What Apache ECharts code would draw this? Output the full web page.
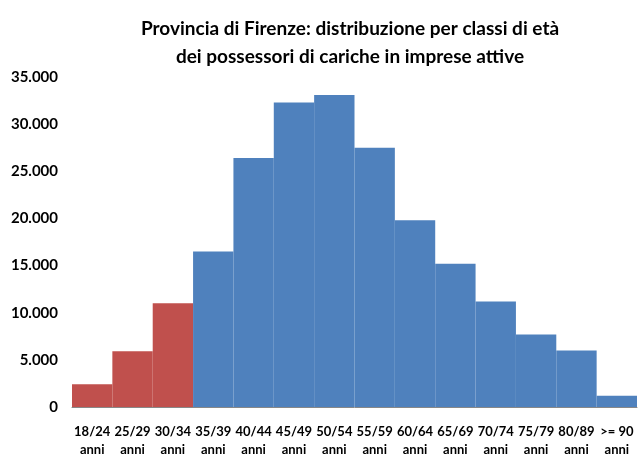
<!DOCTYPE html>
<html>
<head>
<meta charset="utf-8">
<script src="https://cdn.jsdelivr.net/npm/echarts@6/dist/echarts.min.js"></script>
<style>
  html, body { margin: 0; padding: 0; background: #fff; }
  #chart { width: 638px; height: 457px; }
</style>
</head>
<body>
<div id="chart"></div>
<script>
// classi di età (etichette asse x)
const classi = ['18/24\nanni', '25/29\nanni', '30/34\nanni', '35/39\nanni', '40/44\nanni',
    '45/49\nanni', '50/54\nanni', '55/59\nanni', '60/64\nanni', '65/69\nanni',
    '70/74\nanni', '75/79\nanni', '80/89\nanni', '>= 90\nanni'];
// numero di possessori di cariche
const possessori = [2400, 5900, 11000, 16500, 26400, 32300, 33100, 27500, 19800, 15200, 11200, 7700, 6000, 1200];
// classi giovani (in rosso)
const giovani = 3;
const yMax = 35000;
const yStep = 5000;

const fontFam = "Lato, 'Open Sans', sans-serif";

let chartDom = document.getElementById('chart');
let myChart = echarts.init(chartDom);

let option = {
    animation: false,
    title: {
        text: 'Provincia di Firenze: distribuzione per classi di età\ndei possessori di cariche in imprese attive',
        left: 345,
        textAlign: 'center',
        top: 10,
        textStyle: {
            fontFamily: fontFam,
            fontWeight: 'bold',
            fontSize: 19,
            lineHeight: 28,
            color: '#000'
        }
    },
    grid: {
        left: 72,
        right: 1,
        top: 77,
        bottom: 50,
        outerBoundsMode: 'none'
    },
    xAxis: {
        type: 'category',
        data: classi,
        axisTick: { show: false },
        axisLine: { lineStyle: { color: '#888', width: 1 } },
        axisLabel: {
            interval: 0,
            margin: 16,
            fontFamily: fontFam,
            fontWeight: 'bold',
            fontSize: 13,
            lineHeight: 18,
            color: '#000'
        }
    },
    yAxis: {
        type: 'value',
        min: 0,
        max: yMax,
        interval: yStep,
        splitLine: { show: false },
        axisLine: { show: false },
        axisTick: { show: false },
        axisLabel: {
            margin: 14,
            fontFamily: fontFam,
            fontWeight: 'bold',
            fontSize: 15,
            color: '#000',
            formatter: function (v) {
                return v.toString().replace(/\B(?=(\d{3})+(?!\d))/g, '.');
            }
        }
    },
    series: [{
        type: 'bar',
        barCategoryGap: '0%',
        data: possessori.map(function (v, i) {
            return {
                value: v,
                itemStyle: { color: i < giovani ? '#C0504D' : '#4F81BD' }
            };
        })
    }]
};

myChart.setOption(option);
</script>
</body>
</html>
